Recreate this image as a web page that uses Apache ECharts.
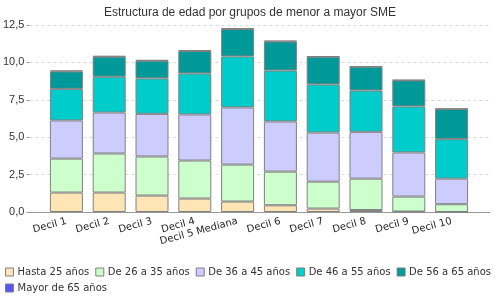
<!DOCTYPE html>
<html>
<head>
<meta charset="utf-8">
<script src="https://cdn.jsdelivr.net/npm/echarts@6/dist/echarts.min.js"></script>
<style>
	html, body { margin:0; padding:0; background:#fff; }
	#chart { width:500px; height:300px; }
</style>
</head>
<body>
<div id="chart"></div>
<script>
var categories = ['Decil 1','Decil 2','Decil 3','Decil 4','Decil 5 Mediana','Decil 6','Decil 7','Decil 8','Decil 9','Decil 10'] ;
var seriesNames = ['Hasta 25 años','De 26 a 35 años','De 36 a 45 años','De 46 a 55 años','De 56 a 65 años','Mayor de 65 años'] ;

var hasta25 = [1.30, 1.30, 1.10, 0.90, 0.70, 0.45, 0.23, 0.13, 0.03, 0.00] ;
var de26a35 = [2.27, 2.61, 2.61, 2.54, 2.47, 2.25, 1.80, 2.10, 1.00, 0.52] ;
var de36a45 = [2.55, 2.74, 2.85, 3.08, 3.82, 3.35, 3.28, 3.13, 2.95, 1.71] ;
var de46a55 = [2.11, 2.39, 2.37, 2.74, 3.41, 3.41, 3.22, 2.76, 3.08, 2.64] ;
var de56a65 = [1.17, 1.34, 1.18, 1.50, 1.83, 1.94, 1.85, 1.59, 1.74, 2.01] ;
var mayor65 = [0.06, 0.05, 0.05, 0.05, 0.05, 0.05, 0.03, 0.03, 0.03, 0.03] ;

var colors = ['#FFE4B5','#CCFFCC','#CCCCFF','#00CCCC','#009999','#5555FF'] ;

var yTicks = { min:0, max:12.5, interval:2.5 } ;

function initChart()
{
	var values = [hasta25, de26a35, de36a45, de46a55, de56a65, mayor65] ;
	var series = [] ;
	for( var i = 0 ; i < seriesNames.length ; i++ )
	{
		series.push({
			name : seriesNames[i] ,
			type : 'bar' ,
			stack : 'edad' ,
			xAxisIndex : 1 ,
			yAxisIndex : 1 ,
			barWidth : 33 ,
			data : values[i] ,
			itemStyle : {
				color : colors[i] ,
				borderColor : '#808080' ,
				borderWidth : 1
			}
		});
	}

	var option = {
		animation : false ,
		backgroundColor : '#ffffff' ,
		title : {
			text : 'Estructura de edad por grupos de menor a mayor SME' ,
			left : 'center' ,
			top : 2 ,
			textStyle : {
				fontFamily : 'Liberation Sans' ,
				fontSize : 12 ,
				fontWeight : 'normal' ,
				color : '#333333'
			}
		},
		legend : {
			data : seriesNames ,
			left : 0 ,
			top : 262 ,
			width : 492 ,
			padding : [5, 2, 5, 5] ,
			itemWidth : 8 ,
			itemHeight : 8 ,
			itemGap : 6 ,
			icon : 'rect' ,
			itemStyle : { borderColor : '#808080', borderWidth : 1 } ,
			textStyle : {
				fontFamily : 'DejaVu Sans' ,
				fontSize : 10 ,
				color : '#333333' ,
				padding : [0, 0, 0, -1]
			}
		},
		grid : [
			{ left : 27, right : 10, top : 25, bottom : 88 } ,
			{ left : 45, right : 27, top : 25, bottom : 88 }
		],
		xAxis : [
			{
				type : 'value' ,
				gridIndex : 0 ,
				min : 0 ,
				max : 1 ,
				axisLine : { show : true, lineStyle : { color : '#999999' } } ,
				axisTick : { show : false } ,
				axisLabel : { show : false } ,
				splitLine : { show : false }
			},
			{
				type : 'category' ,
				gridIndex : 1 ,
				data : categories ,
				axisLine : { show : false } ,
				axisTick : { show : false } ,
				axisLabel : {
					rotate : 15 ,
					margin : 9 ,
					interval : 0 ,
					fontFamily : 'DejaVu Sans' ,
					fontSize : 10 ,
					color : '#222222'
				}
			}
		],
		yAxis : [
			{
				type : 'value' ,
				gridIndex : 0 ,
				min : yTicks.min ,
				max : yTicks.max ,
				interval : yTicks.interval ,
				axisLine : { show : false } ,
				axisTick : { show : true, length : 3, lineStyle : { color : '#999999' } } ,
				axisLabel : {
					margin : 5 ,
					fontFamily : 'Liberation Sans' ,
					fontSize : 11 ,
					color : '#333333' ,
					formatter : function (v) { return v.toFixed(1).replace('.', ','); }
				},
				splitLine : { show : true, lineStyle : { color : '#d8d8d8', type : [3, 3] } }
			},
			{
				type : 'value' ,
				gridIndex : 1 ,
				min : yTicks.min ,
				max : yTicks.max ,
				interval : yTicks.interval ,
				show : false ,
				splitLine : { show : false }
			}
		],
		series : series
	};
	var myChart = echarts.init( document.getElementById('chart') );
	myChart.setOption(option);
}

initChart() ;
</script>
</body>
</html>
